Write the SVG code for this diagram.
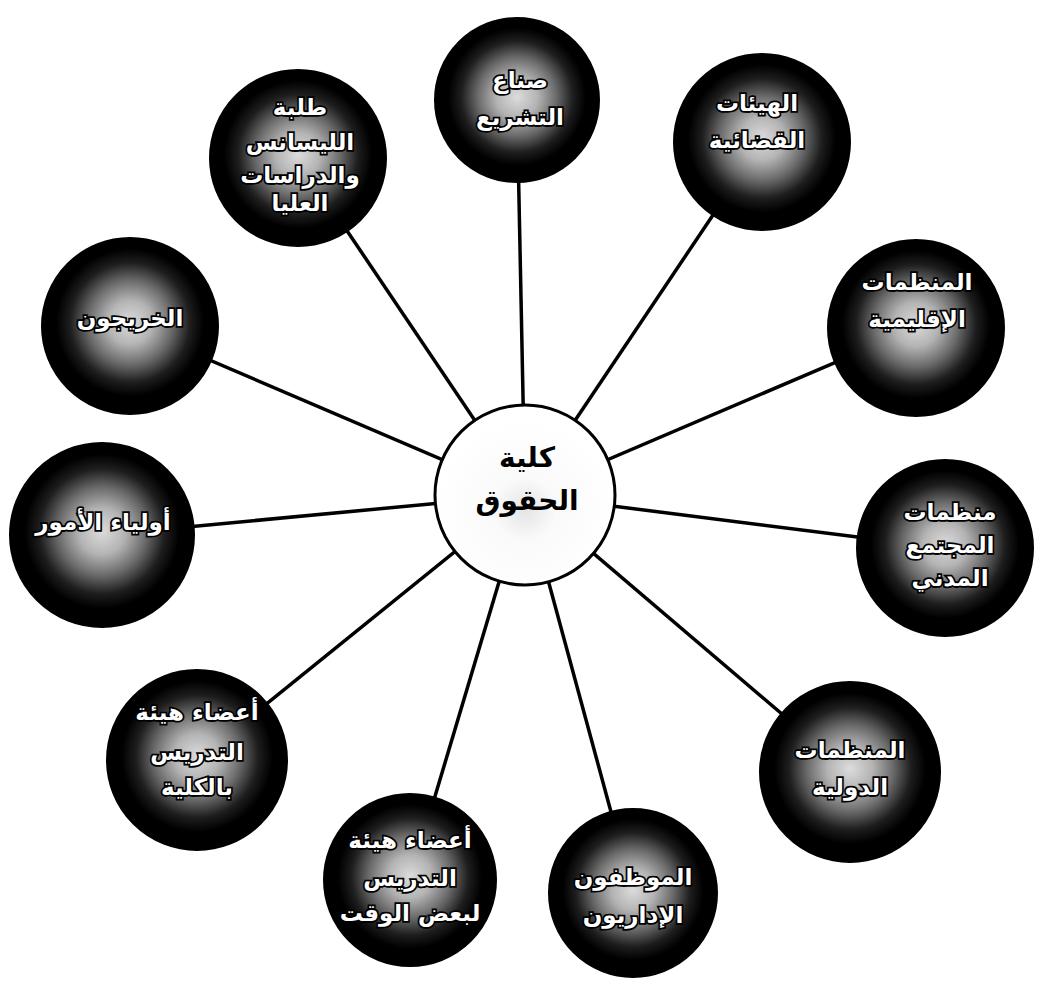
<svg xmlns="http://www.w3.org/2000/svg" width="1041" height="983" viewBox="0 0 1041 983">
<defs>
<radialGradient id="sphere" cx="50%" cy="48%" r="50%">
<stop offset="0%" stop-color="#dcdcdc"/>
<stop offset="25%" stop-color="#b4b4b4"/>
<stop offset="48%" stop-color="#6a6a6a"/>
<stop offset="68%" stop-color="#1e1e1e"/>
<stop offset="84%" stop-color="#000000"/>
<stop offset="100%" stop-color="#000000"/>
</radialGradient>
<radialGradient id="hub" cx="50%" cy="58%" r="50%">
<stop offset="0%" stop-color="#e4e4e4"/>
<stop offset="35%" stop-color="#fafafa"/>
<stop offset="100%" stop-color="#ffffff"/>
</radialGradient>
</defs>
<style>
.node{fill:url(#sphere);stroke:#000;stroke-width:2}
.lbl{font-family:"DejaVu Sans",sans-serif;font-weight:bold;font-size:23px;fill:#fff;stroke:#000;stroke-width:3.5px;paint-order:stroke;text-anchor:middle}
.hubt{font-family:"DejaVu Sans",sans-serif;font-weight:bold;font-size:28px;fill:#000;text-anchor:middle}
.edge{stroke:#000;stroke-width:3.5;fill:none}
</style>
<rect width="1041" height="983" fill="#fff"/>
<g id="connectors">
<line class="edge" x1="525" y1="495" x2="517" y2="100"/>
<line class="edge" x1="525" y1="495" x2="762" y2="142"/>
<line class="edge" x1="525" y1="495" x2="916" y2="328"/>
<line class="edge" x1="525" y1="495" x2="945" y2="548"/>
<line class="edge" x1="525" y1="495" x2="850" y2="772"/>
<line class="edge" x1="525" y1="495" x2="633" y2="893"/>
<line class="edge" x1="525" y1="495" x2="410" y2="880"/>
<line class="edge" x1="525" y1="495" x2="197" y2="760"/>
<line class="edge" x1="525" y1="495" x2="102" y2="535"/>
<line class="edge" x1="525" y1="495" x2="130" y2="326"/>
<line class="edge" x1="525" y1="495" x2="298" y2="158"/>
</g>
<g id="hub">
<circle cx="525" cy="495" r="90" fill="url(#hub)" stroke="#000" stroke-width="3"/>
<text class="hubt" x="527" y="467">كلية</text>
<text class="hubt" x="527" y="510">الحقوق</text>
</g>
<g id="n1">
<circle class="node" cx="517" cy="100" r="82"/>
<text class="lbl" x="520" y="88">صناع</text>
<text class="lbl" x="520" y="125">التشريع</text>
</g>
<g id="n2">
<circle class="node" cx="762" cy="142" r="88"/>
<text class="lbl" x="757" y="111">الهيئات</text>
<text class="lbl" x="757" y="148">القضائية</text>
</g>
<g id="n3">
<circle class="node" cx="916" cy="328" r="88"/>
<text class="lbl" x="917" y="290">المنظمات</text>
<text class="lbl" x="917" y="327">الإقليمية</text>
</g>
<g id="n4">
<circle class="node" cx="945" cy="548" r="88"/>
<text class="lbl" x="950" y="520">منظمات</text>
<text class="lbl" x="950" y="553">المجتمع</text>
<text class="lbl" x="950" y="586">المدني</text>
</g>
<g id="n5">
<circle class="node" cx="850" cy="772" r="90"/>
<text class="lbl" x="850" y="758">المنظمات</text>
<text class="lbl" x="850" y="795">الدولية</text>
</g>
<g id="n6">
<circle class="node" cx="633" cy="893" r="84"/>
<text class="lbl" x="633" y="885">الموظفون</text>
<text class="lbl" x="633" y="923">الإداريون</text>
</g>
<g id="n7">
<circle class="node" cx="410" cy="880" r="86"/>
<text class="lbl" x="410" y="848">أعضاء هيئة</text>
<text class="lbl" x="410" y="886">التدريس</text>
<text class="lbl" x="410" y="921">لبعض الوقت</text>
</g>
<g id="n8">
<circle class="node" cx="197" cy="760" r="90"/>
<text class="lbl" x="197" y="720">أعضاء هيئة</text>
<text class="lbl" x="197" y="760">التدريس</text>
<text class="lbl" x="197" y="795">بالكلية</text>
</g>
<g id="n9">
<circle class="node" cx="102" cy="535" r="92"/>
<text class="lbl" x="103" y="530">أولياء الأمور</text>
</g>
<g id="n10">
<circle class="node" cx="130" cy="326" r="88"/>
<text class="lbl" x="130" y="326">الخريجون</text>
</g>
<g id="n11">
<circle class="node" cx="298" cy="158" r="88"/>
<text class="lbl" x="300" y="115">طلبة</text>
<text class="lbl" x="300" y="150">الليسانس</text>
<text class="lbl" x="300" y="183">والدراسات</text>
<text class="lbl" x="300" y="211">العليا</text>
</g>
</svg>
